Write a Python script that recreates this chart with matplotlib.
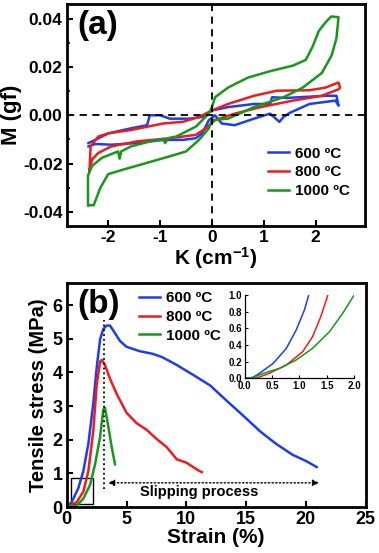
import numpy as np
import matplotlib.pyplot as plt
from matplotlib.patches import Rectangle

plt.rcParams['font.family'] = ['Liberation Sans', 'DejaVu Sans']
plt.rcParams['font.weight'] = 'bold'
plt.rcParams['mathtext.fontset'] = 'custom'
plt.rcParams['mathtext.bf'] = 'Liberation Sans:bold'
plt.rcParams['mathtext.rm'] = 'Liberation Sans:bold'
plt.rcParams['mathtext.default'] = 'bf'

#colors
c600 = '#1e3cf0'
c800 = '#ee1c1c'
c1000 = '#16981a'
labels = ['600 ºC', '800 ºC', '1000 ºC']

#(a) bending moment loops
k600 = [-2.38, -2.25, -2.0, -1.56, -1.25, -1.2, -1.0, -0.81, -0.44, -0.19, 0.0, 0.31, 0.81, 1.12,
        1.16, 1.44, 1.69, 2.19, 2.4, 2.44, 2.38, 1.88, 1.5, 1.38, 1.3, 1.12, 0.81, 0.44, 0.19, 0.06,
        -0.06, -0.19, -0.31, -0.56, -0.94, -1.44, -1.94, -2.25, -2.38]
m600 = [-0.0115, -0.0102, -0.0075, -0.0054, -0.0041, 0.0, 0.0, -0.0014, -0.0014, -0.0007, 0.002, 0.0034,
        0.0047, 0.0047, 0.0075, 0.0072, 0.0075, 0.0081, 0.0081, 0.004, 0.0061, 0.0047, 0.001, -0.0007,
        -0.0027, 0.0007, -0.0014, -0.0041, -0.0034, 0.0, -0.002, -0.0075, -0.0095, -0.0102, -0.0102,
        -0.0115, -0.0122, -0.0119, -0.0129]

k800 = [-2.36, -2.34, -2.19, -2.0, -1.56, -0.94, -0.56, -0.25, 0.0, 0.31, 0.81, 1.25, 1.88, 2.19, 2.44,
        2.47, 2.44, 2.12, 1.56, 0.94, 0.44, 0.06, -0.12, -0.31, -0.81, -1.44, -1.94, -2.19, -2.31, -2.36]
m800 = [-0.023, -0.0129, -0.0088, -0.0075, -0.0061, -0.0034, -0.0027, -0.0007, 0.002, 0.0047, 0.0081,
        0.0102, 0.0104, 0.0115, 0.0136, 0.0115, 0.0108, 0.0081, 0.0061, 0.0034, 0.0007, -0.002, -0.0054,
        -0.0081, -0.0095, -0.0108, -0.0129, -0.0156, -0.0183, -0.023]

k1000 = [-2.38, -2.28, -2.15, -2.0, -1.69, -1.25, -0.81, -0.5, -0.25, -0.06, 0.0, 0.31, 0.81, 1.38,
         1.75, 2.12, 2.31, 2.4, 2.44, 2.3, 2.19, 2.06, 1.94, 1.81, 1.56, 1.12, 0.69, 0.31, 0.06, 0.0,
         -0.06, -0.31, -0.69, -0.85, -0.9, -0.95, -1.19, -1.56, -1.75, -1.78, -1.81, -2.12, -2.31,
         -2.39, -2.39]
m1000 = [-0.0373, -0.0373, -0.030, -0.0244, -0.0224, -0.0197, -0.017, -0.015, -0.0102, -0.0054, -0.002,
         -0.0014, 0.0034, 0.0075, 0.0115, 0.0176, 0.025, 0.032, 0.0407, 0.041, 0.0386, 0.035, 0.0285,
         0.023, 0.0206, 0.0183, 0.0156, 0.0115, 0.0075, 0.0034, 0.0007, -0.0047, -0.0088, -0.0095,
         -0.0115, -0.0098, -0.0108, -0.0129, -0.015, -0.018, -0.015, -0.0176, -0.021, -0.025, -0.0373]

#(b) tensile curves
s600 = [0, 0.42, 0.97, 1.39, 1.81, 2.23, 2.5, 2.79, 3.06, 3.34, 3.62, 3.9, 4.46, 5.0, 6.1, 7.2, 8.0,
        9.2, 10.6, 12.0, 13.4, 14.8, 16.2, 17.5, 18.9, 20.0, 20.9]
t600 = [0, 0.15, 0.56, 1.07, 1.88, 3.1, 4.12, 4.98, 5.29, 5.39, 5.39, 5.24, 4.93, 4.76, 4.63, 4.55,
        4.45, 4.22, 3.92, 3.61, 3.15, 2.7, 2.24, 1.88, 1.55, 1.37, 1.19]
s800 = [0, 0.84, 1.39, 1.81, 2.23, 2.5, 2.79, 2.93, 3.2, 3.62, 4.18, 5.0, 5.85, 6.7, 7.5, 8.36, 9.2,
        10.0, 11.1, 11.3]
t800 = [0, 0.15, 0.46, 1.07, 2.29, 3.61, 4.32, 4.37, 4.22, 3.81, 3.36, 2.8, 2.49, 2.29, 2.03, 1.78,
        1.42, 1.32, 1.07, 1.04]
s1000 = [0, 0.84, 1.39, 1.95, 2.37, 2.79, 3.06, 3.2, 3.48, 3.76, 4.04]
t1000 = [0, 0.05, 0.25, 0.66, 1.27, 2.08, 2.9, 2.95, 2.39, 1.78, 1.27]

#inset (initial part)
is600 = [0, 0.12, 0.27, 0.52, 0.76, 0.94, 1.09, 1.17]
it600 = [0, 0, 0.06, 0.18, 0.36, 0.58, 0.82, 1.0]
is800 = [0, 0.21, 0.45, 0.76, 1.06, 1.24, 1.39, 1.52]
it800 = [0, 0, 0.06, 0.16, 0.32, 0.5, 0.74, 1.0]
is1000 = [0, 0.15, 0.39, 0.64, 0.94, 1.24, 1.55, 1.79, 2.0]
it1000 = [0, 0.01, 0.07, 0.12, 0.22, 0.36, 0.56, 0.78, 1.0]

fig = plt.figure(figsize=(3.79, 5.53), dpi=100)
ax1 = fig.add_axes([0.176, 0.591, 0.787, 0.401])
ax2 = fig.add_axes([0.176, 0.083, 0.789, 0.405])
ax3 = fig.add_axes([0.646, 0.316, 0.288, 0.150])

def style(ax, fs):
    for sp in ax.spines.values():
        sp.set_linewidth(2.0)
    ax.tick_params(direction='in', width=1.5, length=4, labelsize=fs, pad=3)
    for lab in ax.get_xticklabels() + ax.get_yticklabels():
        lab.set_fontweight('bold')

#Panel (a)
ax1.plot(k600, m600, color=c600, lw=1.8, label=labels[0])
ax1.plot(k800, m800, color=c800, lw=1.8, label=labels[1])
ax1.plot(k1000, m1000, color=c1000, lw=1.8, label=labels[2])
ax1.axhline(0, color='black', ls='--', lw=1.3, dashes=(4, 3))
ax1.axvline(0, color='black', ls='--', lw=1.3, dashes=(4, 3))
ax1.set_xlim(-2.8, 2.95)
ax1.set_ylim(-0.046, 0.046)
ax1.set_xticks([-2, -1, 0, 1, 2])
ax1.set_yticks([-0.04, -0.02, 0.0, 0.02, 0.04])
ax1.set_yticklabels(['-0.04', '-0.02', '0.00', '0.02', '0.04'])
ax1.set_xticklabels(['-2', '-1', '0', '1', '2'])
ax1.set_yticks([-0.03, -0.01, 0.01, 0.03], minor=True)
ax1.tick_params(which='minor', direction='in', width=1.2, length=2.5)
style(ax1, 12.5)
ax1.set_xlabel('K (cm$^{-1}$)', fontsize=15, fontweight='bold', labelpad=0)
ax1.set_ylabel('M (gf)', fontsize=16, fontweight='bold', labelpad=1)
ax1.text(0.035, 0.975, '(a)', transform=ax1.transAxes, fontsize=24, fontweight='bold', va='top')
ax1.legend(loc='lower right', bbox_to_anchor=(0.97, 0.1), borderaxespad=0, frameon=False,
           handlelength=1.4, handletextpad=0.4, labelspacing=0.3, prop={'weight': 'bold', 'size': 11})

#Panel (b)
ax2.plot(s600, t600, color=c600, lw=1.8, label=labels[0])
ax2.plot(s800, t800, color=c800, lw=1.8, label=labels[1])
ax2.plot(s1000, t1000, color=c1000, lw=1.8, label=labels[2])
ax2.plot([3.1, 3.1], [0.55, 5.55], color='black', ls=':', lw=1.3)
ax2.annotate('', xy=(3.45, 0.72), xytext=(21.1, 0.72),
             arrowprops=dict(arrowstyle='<|-|>', ls=':', lw=1.0, color='black',
                             mutation_scale=9, shrinkA=0, shrinkB=0))
ax2.text(11.1, 0.46, 'Slipping process', ha='center', va='center', fontsize=10.5, fontweight='bold')
ax2.add_patch(Rectangle((0.36, 0.1), 1.8, 0.77, fill=False, ec='black', lw=1.0))
ax2.set_xlim(0, 25)
ax2.set_ylim(0, 6.65)
ax2.set_xticks([0, 5, 10, 15, 20, 25])
ax2.set_yticks([0, 1, 2, 3, 4, 5, 6])
style(ax2, 13)
ax2.set_xlabel('Strain (%)', fontsize=15, fontweight='bold', labelpad=0)
ax2.set_ylabel('Tensile stress (MPa)', fontsize=14.5, fontweight='bold', labelpad=3)
ax2.text(0.035, 0.975, '(b)', transform=ax2.transAxes, fontsize=24, fontweight='bold', va='top')
ax2.legend(loc='upper left', bbox_to_anchor=(0.22, 0.99), borderaxespad=0, frameon=False,
           handlelength=1.4, handletextpad=0.4, labelspacing=0.3, prop={'weight': 'bold', 'size': 11})

#Inset
ax3.plot(is600, it600, color=c600, lw=1.1)
ax3.plot(is800, it800, color=c800, lw=1.1)
ax3.plot(is1000, it1000, color=c1000, lw=1.1)
ax3.set_xlim(0, 2)
ax3.set_ylim(0, 1)
ax3.set_xticks([0, 0.5, 1.0, 1.5, 2.0])
ax3.set_yticks([0, 0.2, 0.4, 0.6, 0.8, 1.0])
ax3.spines['top'].set_visible(False)
ax3.spines['right'].set_visible(False)
for sp in ['left', 'bottom']:
    ax3.spines[sp].set_linewidth(0.9)
ax3.tick_params(direction='in', width=0.8, length=2.5, labelsize=7, pad=2)
for lab in ax3.get_xticklabels() + ax3.get_yticklabels():
    lab.set_fontweight('bold')

fig.savefig('out.png', dpi=100)
